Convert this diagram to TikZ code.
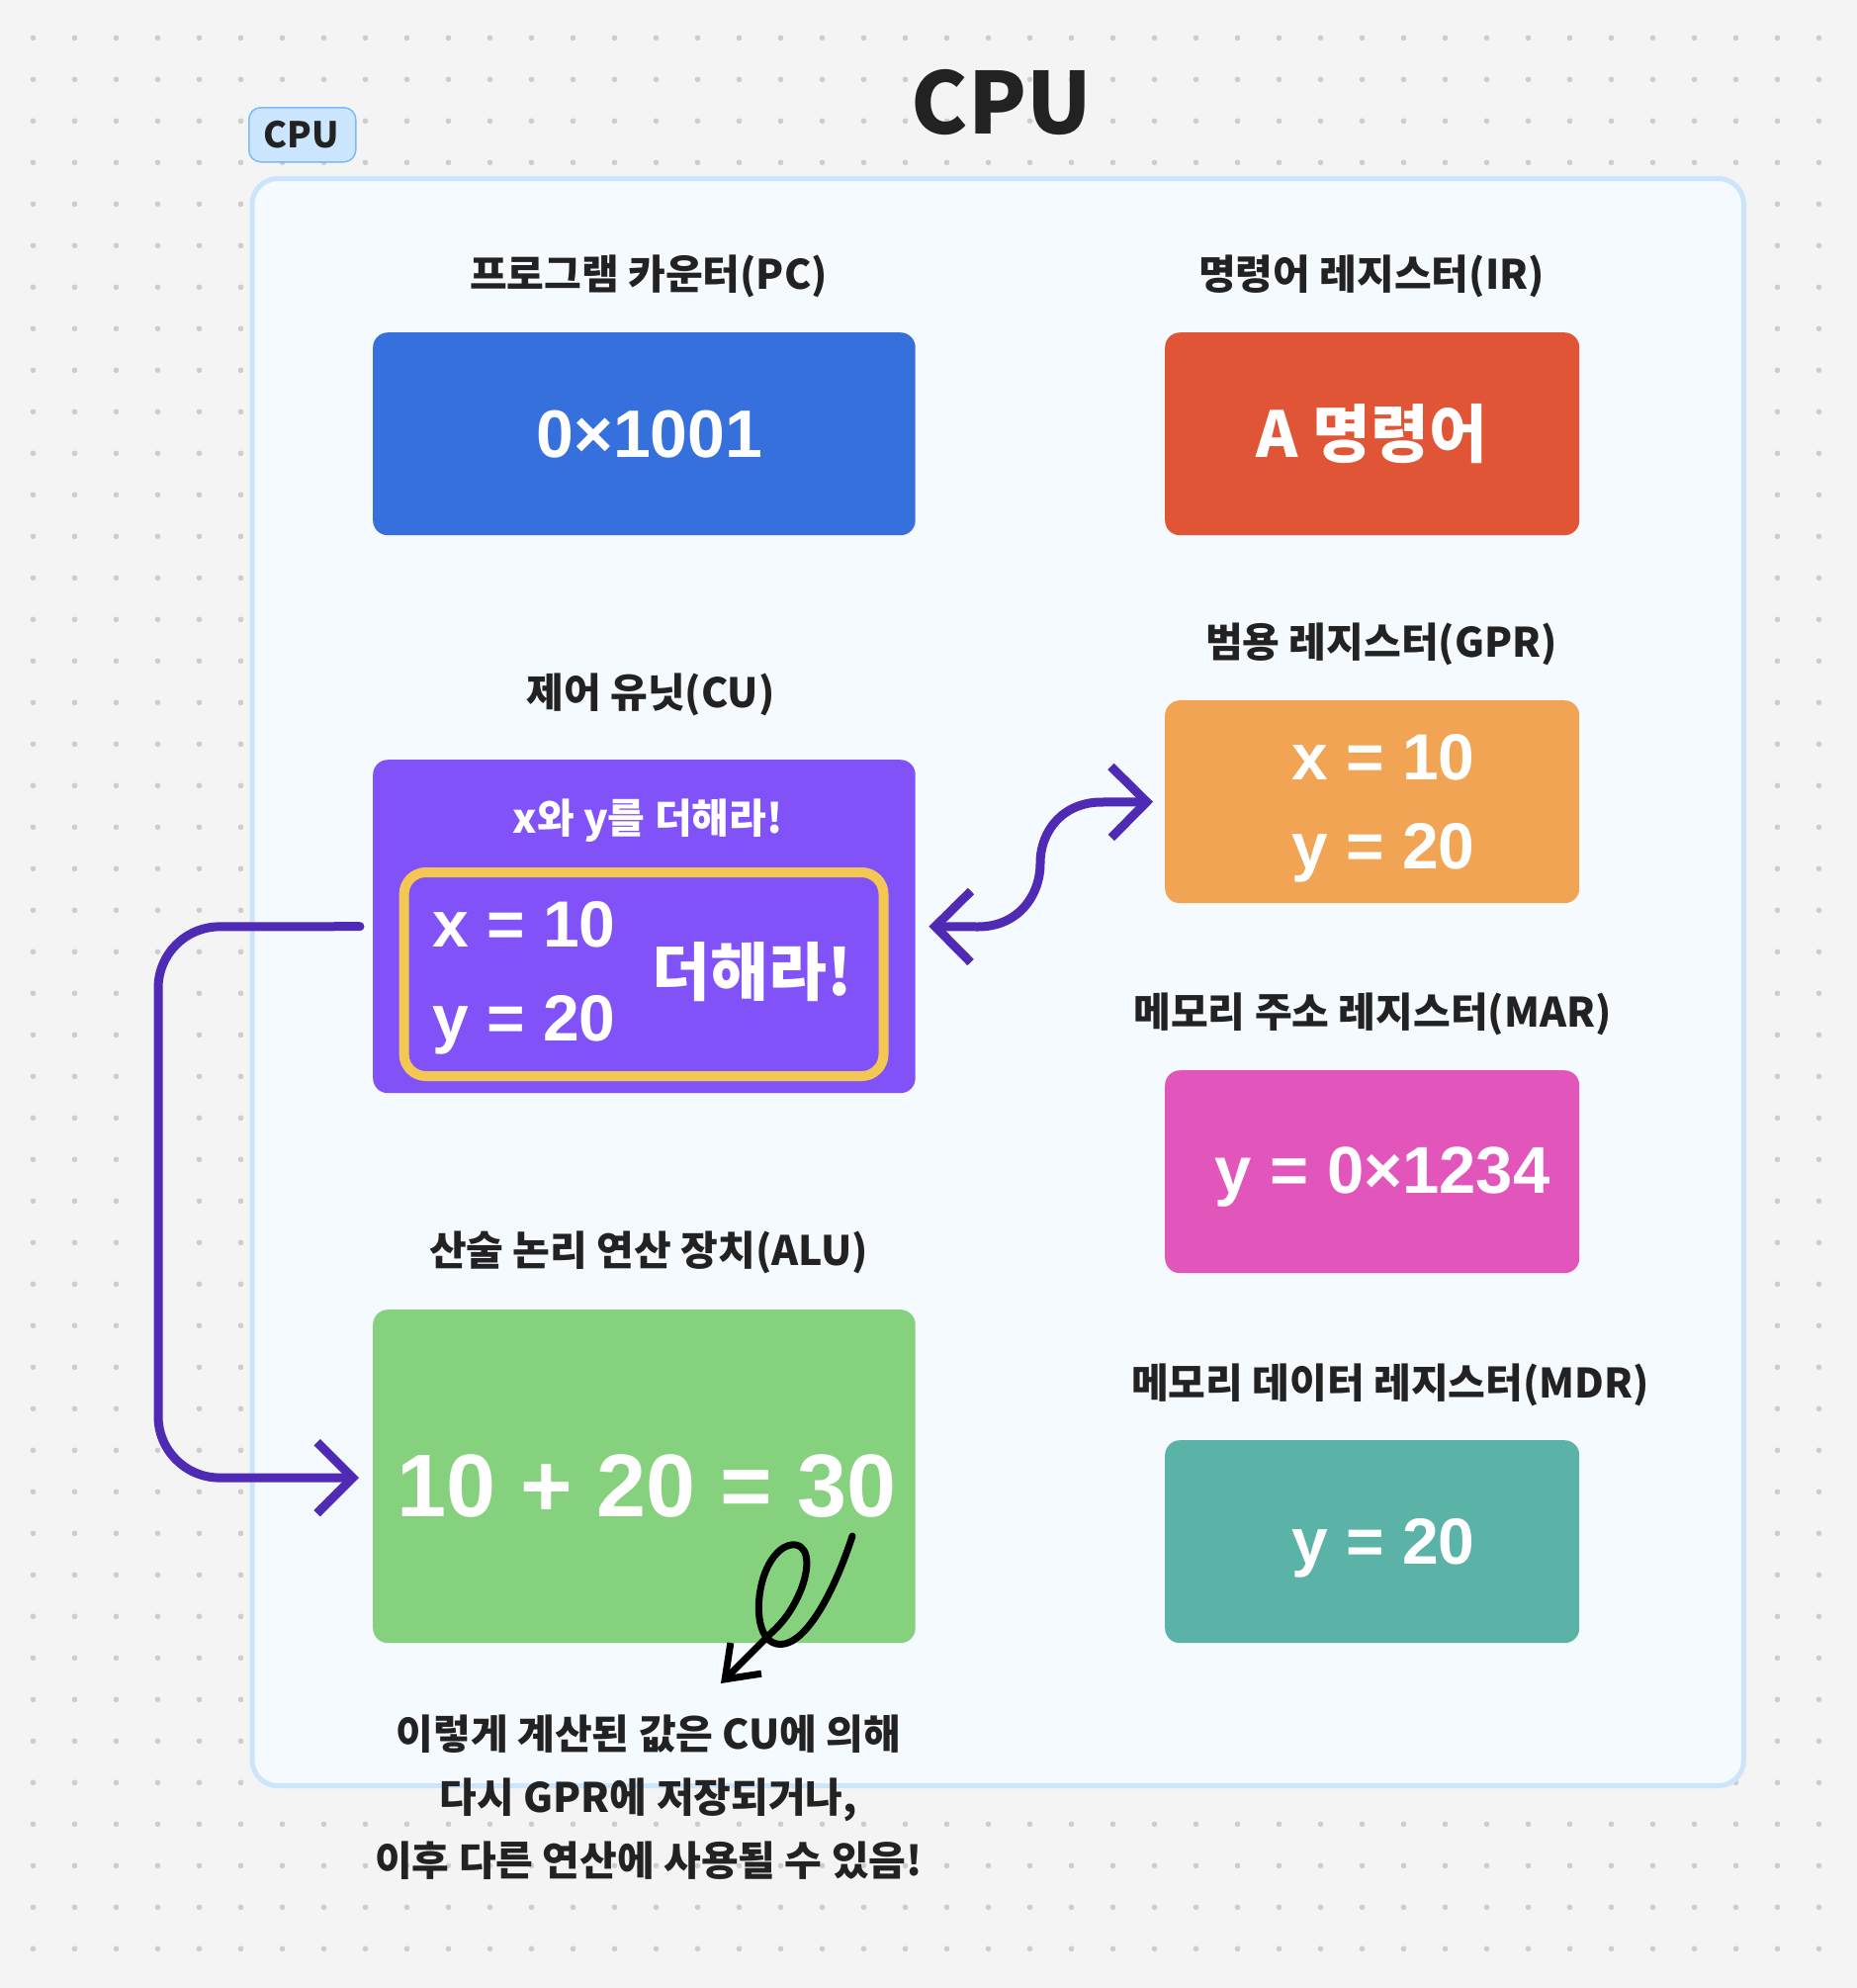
\documentclass[tikz,border=0pt]{standalone}
\usepackage{fontspec}
\setmainfont{Noto Sans CJK KR}
\newfontfamily\lat{Liberation Sans}
\usetikzlibrary{arrows.meta}
\definecolor{bgc}{HTML}{F4F4F4}
\definecolor{dotc}{HTML}{CDCDCD}
\definecolor{contf}{HTML}{F5FAFF}
\definecolor{contd}{HTML}{CCE5FB}
\definecolor{tagf}{HTML}{CCE6FF}
\definecolor{tagd}{HTML}{7DBAF5}
\definecolor{ink}{HTML}{222222}
\definecolor{pcc}{HTML}{3670DD}
\definecolor{irc}{HTML}{E05535}
\definecolor{gprc}{HTML}{F0A454}
\definecolor{marc}{HTML}{E255BB}
\definecolor{mdrc}{HTML}{5BB3A7}
\definecolor{cuc}{HTML}{8052F8}
\definecolor{yelc}{HTML}{F4C752}
\definecolor{aluc}{HTML}{85D17D}
\definecolor{arrc}{HTML}{4F2AB4}
\begin{document}
\begin{tikzpicture}[x=1pt,y=-1pt,line cap=round,line join=round,
  regbox/.style={rounded corners=15pt,inner sep=0pt,anchor=north west,
    text=white,font=\fontsize{64}{80}\selectfont\bfseries,text height=48pt,text depth=0pt},
  lab/.style={font=\fontsize{41}{48}\selectfont\bfseries,text=ink,inner sep=0pt},
  val/.style={font=\lat\bfseries\fontsize{66}{80}\selectfont,text=white,inner sep=0pt},
  conn/.style={draw=arrc,line width=9pt}
]
\useasboundingbox (0,0) rectangle (1878,2010);
\fill[bgc] (0,0) rectangle (1878,2010);
\foreach \i in {0,...,43}{\foreach \j in {0,...,46}{
  \fill[dotc] (33.5+42*\i,38.3+42*\j) circle (2.8);}}

% title and tag
\node[font=\fontsize{86}{100}\selectfont\bfseries,text=ink,anchor=base,inner sep=0pt] (title) at (1013,135) {CPU};
\node[draw=tagd,fill=tagf,line width=1.5pt,rounded corners=12pt,minimum width=108pt,minimum height=55pt,
  anchor=north west,inner sep=0pt] (tag) at (251,108) {};
\node[font=\fontsize{36}{40}\selectfont\bfseries,text=ink,anchor=base,inner sep=0pt] (tagtxt) at (305,149) {CPU};

% container
\draw[draw=contd,fill=contf,line width=5pt,rounded corners=26pt] (255,180.5) rectangle (1763.5,1805.5);

% labels
\node[lab] (lpc) at (656,279) {프로그램 카운터(PC)};
\node[lab] (lir) at (1387,279) {명령어 레지스터(IR)};
\node[lab] (lgpr) at (1397,651) {범용 레지스터(GPR)};
\node[lab] (lcu) at (658,702.5) {제어 유닛(CU)};
\node[lab] (lmar) at (1388,1025.5) {메모리 주소 레지스터(MAR)};
\node[lab] (lalu) at (656,1266.5) {산술 논리 연산 장치(ALU)};
\node[lab] (lmdr) at (1406,1400) {메모리 데이터 레지스터(MDR)};

% registers
\node[regbox,fill=pcc,minimum width=548.5pt,minimum height=205pt] (pc) at (377,336) {};
\node[val,anchor=base,font=\lat\bfseries\fontsize{68}{80}\selectfont] (pv) at (657,462) {0×1001};
\node[regbox,fill=irc,minimum width=419pt,minimum height=205pt] (ir) at (1178,336) {A 명령어};
\node[regbox,fill=gprc,minimum width=419pt,minimum height=205pt] (gpr) at (1178,708) {};
\node[val,anchor=base west] (gx) at (1306,788) {x = 10};
\node[val,anchor=base west] (gy) at (1306,878) {y = 20};
\node[regbox,fill=marc,minimum width=419pt,minimum height=205pt] (mar) at (1178,1082) {};
\node[val,anchor=base,font=\lat\bfseries\fontsize{67}{80}\selectfont] (mv) at (1398,1206) {y = 0×1234};
\node[regbox,fill=mdrc,minimum width=419pt,minimum height=205pt] (mdr) at (1178,1456) {};
\node[val,anchor=base west] (dv) at (1306,1581) {y = 20};

% control unit
\node[regbox,fill=cuc,minimum width=548.5pt,minimum height=337pt] (cu) at (377,768) {};
\node[font=\fontsize{41}{48}\selectfont\bfseries,text=white,inner sep=0pt] (cut) at (655,830) {x와 y를 더해라!};
\draw[yelc,line width=10pt,rounded corners=22pt] (408.6,882) rectangle (893.5,1088);
\node[val,anchor=base west] (cx) at (437,957) {x = 10};
\node[val,anchor=base west] (cy) at (437,1052) {y = 20};
\node[font=\fontsize{64}{80}\selectfont\bfseries,text=white,inner sep=0pt] (cadd) at (761,983) {더해라!};

% ALU
\node[regbox,fill=aluc,minimum width=548.5pt,minimum height=337pt] (alu) at (377,1324) {};
\node[val,anchor=base,font=\lat\bfseries\fontsize{90}{100}\selectfont] (av) at (654,1533) {10 + 20 = 30};

% connectors
\draw[conn,-{Straight Barb[length=36pt,width=72pt]},rounded corners=62pt]
  ([xshift=-13pt]cu.west) -- (160,937) -- (160,1494) -- ([xshift=-14pt,yshift=-1.5pt]alu.west);
\draw[conn,{Straight Barb[length=36pt,width=72pt]}-{Straight Barb[length=36pt,width=72pt]}]
  ([xshift=13.5pt]cu.east) -- (989,937) .. controls (1030,937) and (1052,905) .. (1052,873)
  .. controls (1052,840) and (1075,811) .. (1114,811) -- ([xshift=-12pt]gpr.west);

% hand-drawn arrow
\coordinate (hs) at (862,1553);
\coordinate (ht) at (729,1702);
\draw[black,line width=7pt,-{Straight Barb[length=30pt,width=44pt]}]
  (hs) .. controls (840,1620) and (810,1668) .. (785,1662)
  .. controls (765,1657) and (764,1620) .. (772,1595)
  .. controls (780,1570) and (795,1560) .. (805,1562)
  .. controls (820,1565) and (818,1590) .. (808,1612)
  .. controls (800,1630) and (790,1642) .. (780,1651) -- (ht);

% note
\node[font=\fontsize{41}{64}\selectfont\bfseries,text=ink,align=center,inner sep=0pt] (note) at (656,1817)
  {이렇게 계산된 값은 CU에 의해\\다시 GPR에 저장되거나,\\이후 다른 연산에 사용될 수 있음!};
\end{tikzpicture}
\end{document}
